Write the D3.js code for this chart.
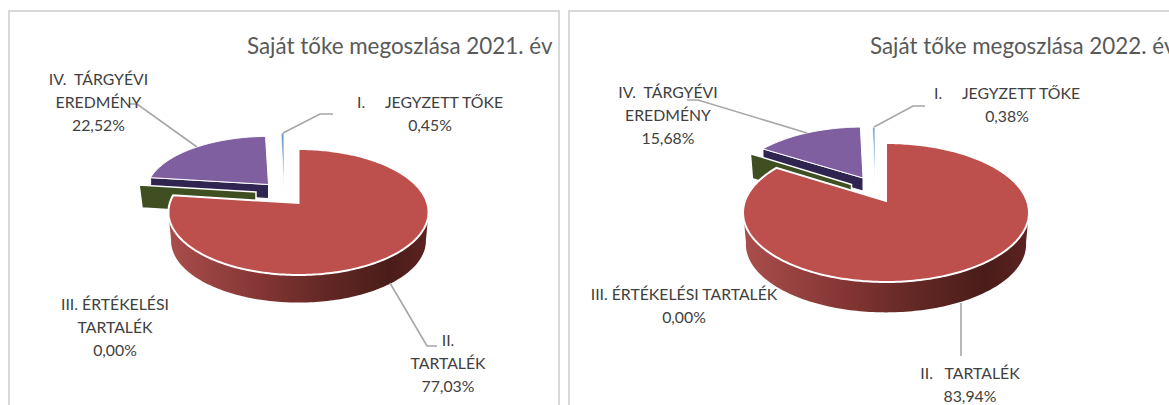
<!DOCTYPE html>
<html><head><meta charset="utf-8">
<script src="https://cdn.jsdelivr.net/npm/d3@7"></script>
<style>html,body{margin:0;padding:0;background:#fff;overflow:hidden}svg{display:block}</style>
</head><body><svg id="c" width="1169" height="405"></svg>
<script>
const categories = ["I.", "II.", "III.", "IV."];
const values2021 = [0.45, 77.03, 0.00, 22.52];
const values2022 = [0.38, 83.94, 0.00, 15.68];
const titles = ["Saját tőke megoszlása 2021. év", "Saját tőke megoszlása 2022. év"];
const labels2021 = [
  {lines:["I.     JEGYZETT TŐKE","0,45%"], x:430, y:108},
  {lines:["II.","TARTALÉK","77,03%"], x:448, y:346},
  {lines:["III. ÉRTÉKELÉSI","TARTALÉK","0,00%"], x:115, y:310},
  {lines:["IV.  TÁRGYÉVI","EREDMÉNY","22,52%"], x:98.5, y:85}
];
const labels2022 = [
  {lines:["I.     JEGYZETT TŐKE","0,38%"], x:1007, y:99},
  {lines:["II.   TARTALÉK","83,94%"], x:970, y:379},
  {lines:["III. ÉRTÉKELÉSI TARTALÉK","0,00%"], x:684, y:300},
  {lines:["IV.  TÁRGYÉVI","EREDMÉNY","15,68%"], x:668, y:98}
];
const colors = ["#6f9fd0", "#bd504d", "#3f4f22", "#7f5fa0"];
const faceColors = ["#9cc0e0", null, "#3f4f22", "#2f2550"];

const svg = d3.select("#c");
const defs = svg.append("defs");

function chart(cfg){
  const g = svg.append("g");
  const pie = d3.pie().sort(null).value(d=>d)
    .startAngle(-cfg.values[0]/100*2*Math.PI)
    .endAngle(2*Math.PI - cfg.values[0]/100*2*Math.PI);
  const arcs = pie(cfg.values);
  const p = cfg.p;
  // projective map of the tilted pie plane
  const proj = (s, th, r=1) => {
    const u = Math.sin(th)*r, v = Math.cos(th)*r, w = 1 + p*v;
    return [s.x + s.a*u/w, s.y - s.b*v/w];
  };
  const line = d3.line();
  const rim = (s, a0, a1) => {
    const n = Math.max(2, Math.ceil(Math.abs(a1-a0)/0.02));
    return d3.range(n+1).map(i => proj(s, a0 + (a1-a0)*i/n));
  };
  const topPath = (s, d) => line([[s.x, s.y], ...rim(s, d.startAngle, d.endAngle)]) + "Z";

  const gid = "grad" + cfg.id;
  const R = cfg.geo[1];
  const gr = defs.append("linearGradient").attr("id", gid).attr("gradientUnits","userSpaceOnUse")
    .attr("x1", R.x - R.a*1.01).attr("x2", R.x + R.a*1.01).attr("y1",0).attr("y2",0);
  [[0,"#a94e4b"],[0.35,"#843634"],[0.6,"#632825"],[0.85,"#4a1c19"],[1,"#5c2321"]]
    .forEach(([o,c]) => gr.append("stop").attr("offset",o).attr("stop-color",c));

  const iv = arcs[3], iii = arcs[2], i = arcs[0], ii = arcs[1];
  const cutFace = (s, th, depth, skew) => {
    const r = proj(s, th);
    return line([[s.x, s.y], r, [r[0]+skew, r[1]+depth], [s.x, s.y+depth]]) + "Z";
  };
  g.append("path").attr("d", cutFace(cfg.geo[3], iv.startAngle, cfg.navyDepth, 0))
    .attr("fill", faceColors[3]).attr("stroke","#fff").attr("stroke-width",1);
  g.append("path").attr("d", topPath(cfg.geo[3], iv))
    .attr("fill", colors[3]).attr("stroke","#fff").attr("stroke-width",1);
  g.append("path").attr("d", cutFace(cfg.geo[2], iii.startAngle, cfg.greenDepth, cfg.greenSkew))
    .attr("fill", faceColors[2]).attr("stroke","#fff").attr("stroke-width",1.5);

  g.append("path").attr("d", topPath(cfg.geo[0], i))
    .attr("fill", colors[0]).attr("stroke","#fff").attr("stroke-width",0.8);

  const lower = {x:R.x, y:R.y + cfg.depth, a:R.a*0.98, b:R.b*0.98};
  const t0 = 98*Math.PI/180, t1 = Math.min(262*Math.PI/180, ii.endAngle);
  g.append("path").attr("d", line([...rim(R,t0,t1), ...rim(lower,t1,t0)])+"Z").attr("fill", `url(#${gid})`);
  g.append("path").attr("d", topPath(R, ii))
    .attr("fill", colors[1]).attr("stroke","#fff").attr("stroke-width",2).attr("stroke-linejoin","miter");

  cfg.leaders.forEach(pts => g.append("path").attr("d", line(pts)).attr("fill","none")
    .attr("stroke","#a6a6a6").attr("stroke-width",1.6));

  cfg.labels.forEach(l => {
    const t = g.append("text").attr("text-anchor","middle").attr("font-family","Lato, sans-serif")
      .attr("font-size",15.8).attr("fill","#404040");
    l.lines.forEach((s,k) => t.append("tspan").attr("x",l.x).attr("y",l.y+k*cfg.lineH).style("white-space","pre").text(s));
  });
  g.append("text").attr("x",cfg.titleX).attr("y",54).attr("font-family","Lato, sans-serif")
    .attr("font-size",22.4).attr("fill","#595959").text(cfg.title);
}

const frame = d3.path();
frame.moveTo(9,405); frame.lineTo(9,11); frame.lineTo(559,11); frame.lineTo(559,405);
frame.moveTo(569,405); frame.lineTo(569,11); frame.lineTo(1169,11);
svg.append("path").attr("d",frame.toString()).attr("fill","none").attr("stroke","#d9d9d9").attr("stroke-width",2);

chart({id:1, values:values2021, title:titles[0], titleX:247, labels:labels2021, lineH:23, p:0.143,
  depth:29, navyDepth:14, greenDepth:23, greenSkew:3,
  geo:[{x:284,y:189,a:120,b:64},{x:298.5,y:203,a:128.7,b:61.7},{x:256,y:192,a:120,b:56},{x:268.5,y:184.5,a:121,b:55}],
  leaders:[[[283,133],[320,114],[333,114]],[[390,283],[427,346],[437,346]],[[197,147],[137,104],[129,104]]]});
chart({id:2, values:values2022, title:titles[1], titleX:870, labels:labels2022, lineH:23, p:0.1655,
  depth:32, navyDepth:13, greenDepth:25, greenSkew:2,
  geo:[{x:875,y:183,a:120,b:65},{x:886,y:201,a:141,b:67.6},{x:851.5,y:184.5,a:130,b:63},{x:863,y:178,a:128.6,b:59.4}],
  leaders:[[[874,127],[913,106],[925,106]],[[961,303],[961,356]],[[807,133],[698,100],[687,100]]]});
</script></body></html>
